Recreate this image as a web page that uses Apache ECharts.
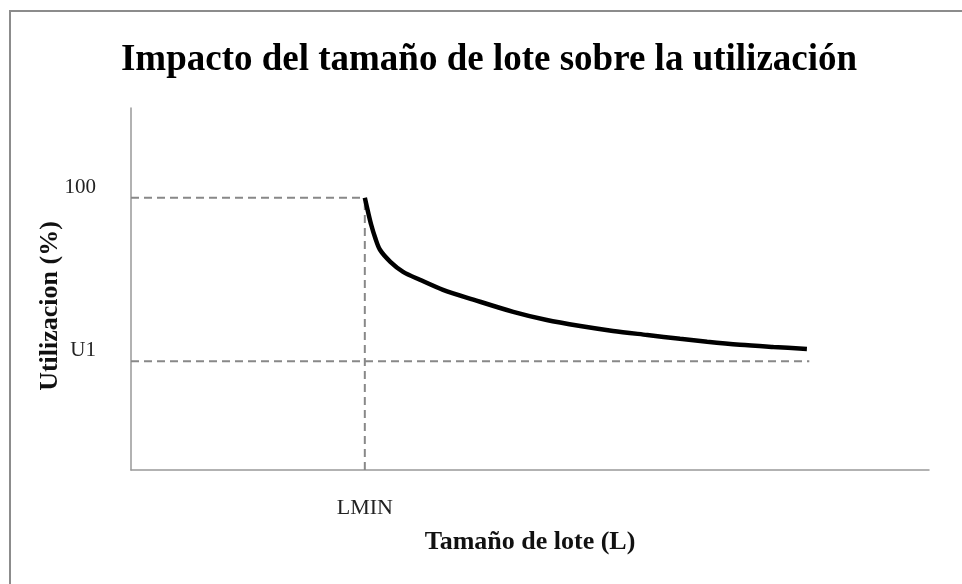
<!DOCTYPE html>
<html>
<head>
<meta charset="utf-8">
<script src="https://cdn.jsdelivr.net/npm/echarts@6/dist/echarts.min.js"></script>
<style>
  html, body { margin: 0; padding: 0; background: #fff; }
  #main { width: 962px; height: 584px; }
</style>
</head>
<body>
<div id="main"></div>
<script>
// datos (x: tamaño de lote 0-100, y: utilizacion %)
var lotSize = [29.3, 29.7, 30.1, 30.6, 31.2, 32.5, 34.1, 36.2, 39.1, 42.9, 47.9, 52.1, 56.3, 60.4, 64.7, 68.8, 72.2, 76.3, 80.5, 84.7];
var utilization = [100, 94.9, 90.1, 85.3, 80.9, 76.5, 72.8, 69.9, 66.2, 62.6, 58.1, 55.1, 52.9, 51.1, 49.6, 48.2, 47.1, 46.0, 45.2, 44.5];
var lMin = 29.3;
var uMax = 100;
var u1 = 40;
var u1End = 85;
var yTickValues = [u1, uMax];
var yTickLabels = ['U1', '100'];
var xTickValues = [lMin];
var xTickLabels = ['LMIN'];

var serif = '"Liberation Serif", "DejaVu Serif", serif';

function pairs(xs, ys) {
	return xs.map(function (x, i) { return [x, ys[i]]; });
}

var chart = echarts.init(document.getElementById('main'));
var dashStyle = { color: '#888', width: 2, type: [8, 5] };

var option = {
	backgroundColor: '#fff',
	animation: false,
	title: {
		text: 'Impacto del tamaño de lote sobre la utilización',
		left: 484,
		top: 37,
		textAlign: 'center',
		textStyle: { fontFamily: serif, fontSize: 37, fontWeight: 'bold', color: '#000' }
	},
	graphic: [{
		type: 'rect',
		shape: { x: 10, y: 11, width: 1000, height: 700 },
		style: { fill: 'none', stroke: '#8c8c8c', lineWidth: 2 },
		silent: true
	}],
	grid: { left: 131, top: 108, right: 33, bottom: 114 },
	xAxis: {
		type: 'value',
		min: 0,
		max: 100,
		name: 'Tamaño de lote (L)',
		nameLocation: 'middle',
		nameGap: 59,
		nameMoveOverlap: false,
		nameTextStyle: { fontFamily: serif, fontSize: 26, fontWeight: 'bold', color: '#111' },
		axisLine: { show: true, lineStyle: { color: '#999', width: 1.5 } },
		axisTick: { show: false },
		splitLine: { show: false },
		axisLabel: {
			customValues: xTickValues,
			margin: 27,
			fontFamily: serif,
			fontSize: 22,
			color: '#222',
			formatter: function (v) {
				var i = xTickValues.indexOf(v);
				return i >= 0 ? xTickLabels[i] : '';
			}
		}
	},
	yAxis: {
		type: 'value',
		min: 0,
		max: 133,
		name: 'Utilizacion (%)',
		nameLocation: 'middle',
		nameGap: 68,
		nameMoveOverlap: false,
		nameTextStyle: { fontFamily: serif, fontSize: 26, fontWeight: 'bold', color: '#111', padding: [0, 34, 0, 0] },
		axisLine: { show: true, lineStyle: { color: '#999', width: 1.5 } },
		axisTick: { show: false },
		splitLine: { show: false },
		axisLabel: {
			customValues: yTickValues,
			margin: 35,
			fontFamily: serif,
			fontSize: 21,
			color: '#222',
			verticalAlign: 'bottom',
			formatter: function (v) {
				var i = yTickValues.indexOf(v);
				return i >= 0 ? yTickLabels[i] : '';
			}
		}
	},
	series: [
		{
			type: 'line',
			symbol: 'none',
			lineStyle: dashStyle,
			data: [[0, uMax], [lMin, uMax]],
			z: 1
		},
		{
			type: 'line',
			symbol: 'none',
			lineStyle: dashStyle,
			data: [[lMin, 0], [lMin, uMax]],
			z: 1
		},
		{
			type: 'line',
			symbol: 'none',
			lineStyle: dashStyle,
			data: [[0, u1], [u1End, u1]],
			z: 1
		},
		{
			type: 'line',
			symbol: 'none',
			smooth: 0.3,
			lineStyle: { color: '#000', width: 4.5 },
			data: pairs(lotSize, utilization),
			z: 3
		}
	]
};

chart.setOption(option);
</script>
</body>
</html>
